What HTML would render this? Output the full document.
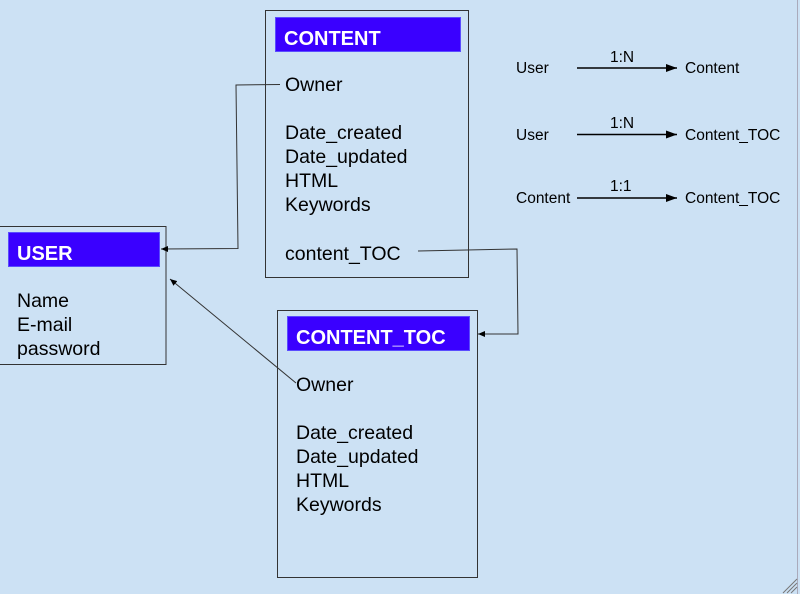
<!DOCTYPE html>
<html><head><style>
html,body{margin:0;padding:0;}
body{width:800px;height:594px;background:#cce1f4;position:relative;overflow:hidden;font-family:"Liberation Sans",Arial,sans-serif;}
.t{position:absolute;font-size:19.5px;color:#000;line-height:24px;white-space:nowrap;}
.s{position:absolute;font-size:15.5px;color:#000;white-space:nowrap;line-height:16px;}
.h{position:absolute;background:#3a00ff;border:1px solid #5a4cff;color:#fff;font-weight:bold;font-size:20px;box-sizing:border-box;padding-left:8px;padding-top:4px;line-height:34px;overflow:hidden;}
</style></head><body>
<svg width="800" height="594" style="position:absolute;left:0;top:0">
<defs>
<marker id="a" markerWidth="8" markerHeight="8" refX="7" refY="4" orient="auto" markerUnits="userSpaceOnUse"><path d="M0,1 L7,4 L0,7 Z" fill="#000"/></marker>
<marker id="b" markerWidth="12" markerHeight="10" refX="11" refY="5" orient="auto" markerUnits="userSpaceOnUse"><path d="M0,1 L11,5 L0,9 Z" fill="#000"/></marker>
</defs>
<rect x="265.5" y="10.5" width="203" height="267" fill="none" stroke="#333" stroke-width="1"/>
<rect x="-1" y="226.5" width="167" height="138" fill="none" stroke="#333" stroke-width="1"/>
<rect x="277.5" y="310.5" width="200" height="267" fill="none" stroke="#333" stroke-width="1"/>
<polyline points="280,84.5 236,85 238,248.5 161,249" fill="none" stroke="#333" stroke-width="1" marker-end="url(#a)"/>
<polyline points="418,251 517,249 518,334 478,334" fill="none" stroke="#333" stroke-width="1" marker-end="url(#a)"/>
<line x1="296" y1="383" x2="170" y2="279" stroke="#333" stroke-width="1" marker-end="url(#a)"/>
<line x1="577" y1="68" x2="677" y2="68" stroke="#000" stroke-width="1.5" marker-end="url(#b)"/>
<line x1="577" y1="134.5" x2="677" y2="134.5" stroke="#000" stroke-width="1.5" marker-end="url(#b)"/>
<line x1="577" y1="198" x2="677" y2="198" stroke="#000" stroke-width="1.5" marker-end="url(#b)"/>
<line x1="797.5" y1="0" x2="797.5" y2="594" stroke="#aab" stroke-width="1"/>
<path d="M787,593 L797,583 M791,593 L797,587 M783,593 L797,579" stroke="#777" stroke-width="1"/>
</svg>
<div class="h" style="left:275px;top:17px;width:186px;height:35px;">CONTENT</div>
<div class="t" style="left:285px;top:73px;">Owner</div>
<div class="t" style="left:285px;top:121px;">Date_created<br>Date_updated<br>HTML<br>Keywords</div>
<div class="t" style="left:285px;top:242px;">content_TOC</div>
<div class="h" style="left:8px;top:232px;width:152px;height:35px;">USER</div>
<div class="t" style="left:17px;top:289px;">Name<br>E-mail<br>password</div>
<div class="h" style="left:287px;top:316px;width:183px;height:35px;">CONTENT_TOC</div>
<div class="t" style="left:296px;top:373px;">Owner</div>
<div class="t" style="left:296px;top:421px;">Date_created<br>Date_updated<br>HTML<br>Keywords</div>
<div class="s" style="left:516px;top:61px;">User</div>
<div class="s" style="left:610px;top:50px;">1:N</div>
<div class="s" style="left:685px;top:61px;">Content</div>
<div class="s" style="left:516px;top:128px;">User</div>
<div class="s" style="left:610px;top:116px;">1:N</div>
<div class="s" style="left:685px;top:128px;">Content_TOC</div>
<div class="s" style="left:516px;top:191px;">Content</div>
<div class="s" style="left:610px;top:179px;">1:1</div>
<div class="s" style="left:685px;top:191px;">Content_TOC</div>
</body></html>
